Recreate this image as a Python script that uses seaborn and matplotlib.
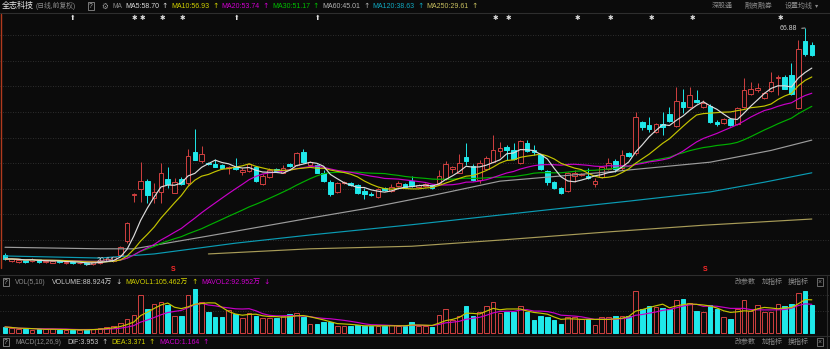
import numpy as np
import pandas as pd
import matplotlib
matplotlib.use("Agg")
import matplotlib.pyplot as plt
from matplotlib.lines import Line2D
import seaborn as sns

# ------------------------------------------------------------------ data
opens = [22.59, 21.42, 21.23, 21.60, 21.40, 21.80, 21.20, 21.10, 21.50, 21.00,
         21.20, 20.95, 21.05, 20.80, 20.95, 21.50, 21.40, 22.60, 25.30, 34.30,
         35.47, 37.03, 33.70, 34.90, 37.40, 34.70, 37.40, 36.60, 42.70, 40.90,
         40.60, 40.40, 40.20, 39.60, 39.80, 38.80, 39.00, 39.80, 36.40, 37.80,
         39.40, 38.60, 40.30, 40.15, 42.70, 40.15, 40.15, 38.60, 36.80, 34.90,
         36.60, 36.60, 36.20, 35.10, 34.40, 33.90, 35.70, 35.10, 36.10, 36.40,
         37.00, 35.90, 36.10, 36.20, 36.60, 37.40, 39.40, 38.60, 41.70, 40.00,
         37.20, 39.40, 40.70, 42.90, 43.70, 43.10, 40.50, 44.40, 43.10, 42.10,
         39.00, 36.80, 35.70, 35.10, 38.00, 38.20, 38.00, 36.40, 37.80, 39.40,
         40.90, 39.60, 42.50, 42.50, 48.50, 47.96, 46.60, 48.20, 50.10, 47.80,
         52.40, 51.50, 52.80, 51.50, 51.70, 48.50, 48.30, 49.10, 48.20, 51.50,
         54.00, 54.80, 53.20, 54.60, 57.10, 57.30, 57.70, 51.30, 64.40, 63.60]
highs = [22.98, 22.00, 21.80, 21.80, 22.00, 21.90, 21.70, 21.60, 21.70, 21.40,
         21.30, 21.30, 21.20, 21.30, 21.70, 22.00, 22.40, 24.40, 29.00, 34.70,
         40.74, 37.40, 36.60, 40.50, 39.80, 37.60, 37.80, 43.30, 47.20, 43.90,
         40.80, 41.30, 40.40, 40.00, 41.50, 39.60, 40.60, 40.00, 38.30, 39.50,
         39.60, 40.20, 40.50, 42.70, 43.30, 40.90, 40.30, 39.20, 37.20, 36.80,
         37.10, 36.90, 36.40, 35.70, 34.90, 35.70, 35.90, 36.40, 37.00, 36.60,
         38.00, 36.40, 36.60, 36.40, 39.20, 40.90, 40.00, 42.30, 44.40, 40.30,
         41.10, 41.90, 46.00, 44.60, 44.10, 44.40, 45.00, 45.00, 44.00, 42.30,
         39.20, 37.00, 35.90, 38.80, 39.20, 38.60, 39.60, 37.60, 40.00, 41.50,
         41.30, 43.10, 42.70, 50.50, 48.70, 49.50, 48.40, 50.50, 51.50, 55.40,
         55.00, 55.40, 54.80, 52.80, 52.00, 48.90, 49.30, 49.30, 51.50, 57.10,
         56.30, 56.20, 54.40, 58.30, 57.70, 57.70, 60.10, 64.50, 66.88, 64.20]
lows = [21.62, 21.20, 21.10, 21.10, 21.30, 21.10, 21.00, 20.95, 21.10, 20.90,
        20.85, 20.80, 20.64, 20.70, 20.80, 21.40, 21.30, 22.40, 25.00, 32.90,
        32.93, 32.74, 32.70, 32.70, 35.70, 34.60, 36.20, 36.20, 41.10, 40.50,
        40.20, 39.70, 39.30, 38.40, 39.20, 38.20, 38.80, 36.80, 36.20, 37.60,
        38.80, 38.60, 39.80, 40.00, 40.60, 40.00, 38.50, 36.80, 34.10, 34.70,
        36.40, 36.00, 34.50, 33.50, 34.10, 33.70, 35.10, 34.90, 35.90, 35.70,
        35.90, 35.70, 35.90, 35.50, 36.20, 37.20, 38.60, 38.60, 40.15, 37.00,
        36.60, 39.20, 40.70, 41.70, 41.10, 41.10, 40.30, 42.70, 42.10, 39.20,
        36.20, 35.50, 34.50, 34.90, 36.80, 38.00, 37.40, 35.90, 37.60, 39.20,
        38.80, 39.20, 41.70, 42.10, 47.00, 46.60, 46.40, 46.00, 48.50, 47.60,
        50.30, 51.30, 52.20, 51.30, 48.30, 47.80, 48.10, 47.80, 48.00, 51.30,
        53.80, 54.40, 53.00, 54.40, 53.80, 55.00, 53.80, 51.10, 61.40, 61.40]
closes = [21.81, 21.81, 21.62, 21.30, 21.80, 21.20, 21.50, 21.40, 21.30, 21.20,
          20.95, 21.10, 20.80, 21.20, 21.55, 21.80, 22.20, 24.15, 28.80, 34.50,
          37.03, 34.30, 34.90, 38.60, 36.40, 36.80, 36.40, 41.90, 41.10, 42.30,
          40.40, 39.80, 39.60, 39.80, 39.40, 39.20, 40.30, 37.00, 38.00, 39.20,
          39.00, 39.60, 39.90, 42.50, 40.70, 40.70, 38.60, 37.00, 34.50, 36.60,
          36.80, 36.20, 34.70, 34.50, 34.30, 35.50, 35.30, 35.90, 36.60, 35.90,
          36.00, 36.20, 36.40, 35.70, 38.00, 40.30, 39.80, 40.50, 40.90, 37.20,
          40.50, 41.50, 43.10, 43.50, 43.10, 41.30, 44.80, 42.90, 42.70, 39.40,
          36.80, 35.70, 34.70, 38.60, 38.60, 38.40, 37.60, 37.00, 39.80, 40.50,
          39.40, 42.10, 41.90, 49.50, 47.60, 47.20, 48.20, 47.60, 48.70, 52.60,
          51.50, 53.80, 52.40, 52.20, 48.50, 48.20, 49.10, 48.00, 51.30, 54.80,
          55.00, 55.20, 54.20, 56.30, 57.30, 55.00, 54.10, 62.80, 61.80, 61.60]
volumes = [19.5, 15.8, 11.3, 12.6, 11.0, 12.9, 11.4, 12.7, 9.8, 9.5,
           9.9, 9.4, 12.5, 12.9, 16.2, 19.0, 22.5, 32.4, 44.6, 57.3,
           121.8, 76.5, 92.6, 99.4, 89.1, 54.7, 54.2, 121.3, 140.9, 99.6,
           67.1, 51.4, 51.0, 73.8, 60.5, 47.9, 64.2, 54.6, 48.3, 47.7,
           48.1, 54.2, 60.9, 64.3, 51.5, 28.7, 29.0, 35.4, 35.1, 22.3,
           22.6, 22.2, 25.8, 22.5, 22.1, 22.7, 22.3, 25.4, 22.6, 22.4,
           35.3, 22.5, 22.2, 19.1, 57.8, 76.6, 41.8, 54.3, 86.7, 54.5,
           67.3, 86.2, 99.5, 64.1, 67.0, 67.4, 86.5, 67.1, 41.4, 54.6,
           51.3, 41.7, 28.9, 51.1, 51.4, 44.9, 44.6, 25.7, 51.0, 51.3,
           54.5, 54.2, 54.6, 134.6, 76.9, 86.3, 83.1, 80.2, 76.6, 105.8,
           108.6, 96.2, 70.5, 67.3, 89.8, 76.5, 51.2, 44.9, 76.7, 105.4,
           70.6, 89.5, 67.4, 67.0, 92.7, 86.3, 93.0, 128.4, 134.2, 88.924]

# long moving averages (they need history before the window)
ma60_idx = [0, 14, 19, 30, 45, 53, 63, 73, 89, 104, 113, 119]
ma60_val = [24.1, 23.8, 23.8, 26.3, 29.8, 31.6, 34.2, 37.0, 38.8, 40.7, 43.0, 45.01]
ma120_idx = [0, 14, 22, 34, 45, 60, 80, 92, 104, 112, 119]
ma120_val = [22.4, 22.0, 22.8, 24.9, 26.5, 28.5, 31.4, 33.1, 34.9, 36.8, 38.63]
ma250_idx = [30, 45, 60, 73, 89, 103, 119]
ma250_val = [22.8, 23.8, 24.3, 25.5, 27.1, 28.4, 29.61]

high_label = "66.88"
low_label = "20.64"

ma_header = [("MA5:58.70", "#dcdcdc"), ("MA10:56.93", "#d2d200"),
             ("MA20:53.74", "#d000d0"), ("MA30:51.17", "#00c000"),
             ("MA60:45.01", "#b4b4b4"), ("MA120:38.63", "#10a8c0"),
             ("MA250:29.61", "#c8c060")]
vol_header = [("VOLUME:88.924万", "#c8c8c8", "↓"), ("MAVOL1:105.462万", "#d2d200", "↑"),
              ("MAVOL2:92.952万", "#d000d0", "↓")]
macd_header = [("DIF:3.953", "#c8c8c8", "↑"), ("DEA:3.371", "#d2d200", "↑"),
               ("MACD:1.164", "#d000d0", "↑")]

# ------------------------------------------------------------------ style
BG = "#0b0b0b"
RED = "#d04040"
CYAN = "#1fe8ea"
GRAY = "#8c8c8c"
sns.set_style("dark", rc={"axes.facecolor": BG, "figure.facecolor": BG,
                          "savefig.facecolor": BG})
FONT = ["Liberation Sans", "Noto Sans CJK SC", "DejaVu Sans"]
plt.rcParams["font.family"] = FONT
SYM = ["DejaVu Sans"]

W, H = 830, 349
fig = plt.figure(figsize=(W / 100, H / 100), dpi=100, facecolor=BG)
renderer = fig.canvas.get_renderer()


def fx(x):
    return x / W


def fy(y):
    return 1 - y / H


def ftext(x, y, s, color, size=5.0, **kw):
    kw.setdefault("va", "center")
    kw.setdefault("ha", "left")
    return fig.text(fx(x), fy(y), s, color=color, fontsize=size, **kw)


def place(x, y, s, color, size=5.0, **kw):
    """draw text at x (px) and return its right edge in px"""
    t = ftext(x, y, s, color, size, **kw)
    return t.get_window_extent(renderer).x1


def hline(y, x0=0, x1=W, color="#2c2c2c", lw=0.8):
    fig.add_artist(Line2D([fx(x0), fx(x1)], [fy(y), fy(y)], transform=fig.transFigure,
                          color=color, lw=lw))


def vline(x, y0, y1, color="#2c2c2c", lw=0.8):
    fig.add_artist(Line2D([fx(x), fx(x)], [fy(y0), fy(y1)], transform=fig.transFigure,
                          color=color, lw=lw))


n = len(closes)
xi = np.arange(n)
o = np.array(opens)
c = np.array(closes)
h = np.array(highs)
lo = np.array(lows)
up = c >= o

XMIN, XMAX = -5 / 6.78, 825 / 6.78
PMIN, PMAX = 20.055, 69.81

# ------------------------------------------------------------------ main panel
ax = fig.add_axes([0, fy(268), 1, (268 - 13) / H])

for p in np.arange(25.5, 66, 5.0):
    ax.axhline(p, color="#3a3a3a", lw=0.6, ls=(0, (1, 2)), zorder=0)

ax.vlines(xi, lo, h, colors=np.where(up, RED, CYAN), lw=0.7, zorder=2)
body_h = np.maximum(np.abs(c - o), 0.08)
ax.bar(xi, body_h, bottom=np.minimum(o, c), width=0.68,
       facecolor=np.where(up, BG, CYAN), edgecolor=np.where(up, RED, CYAN),
       linewidth=0.7, zorder=3)

s = pd.Series(closes)
ma_lines = [
    (xi, s.rolling(5, min_periods=1).mean().values, "#dcdcdc"),
    (xi, s.rolling(10, min_periods=1).mean().values, "#c4c400"),
    (xi, s.rolling(20, min_periods=1).mean().values, "#c800c8"),
    (xi, s.rolling(30, min_periods=1).mean().values, "#00b000"),
    (np.array(ma60_idx), np.array(ma60_val), "#9c9c9c"),
    (np.array(ma120_idx), np.array(ma120_val), "#0a9cb4"),
    (np.array(ma250_idx), np.array(ma250_val), "#a89c58"),
]
for xs, ys, col in ma_lines[::-1]:
    sns.lineplot(x=xs, y=ys, ax=ax, color=col, lw=0.85, legend=False, zorder=4)
ax.set_xlim(XMIN, XMAX)
ax.set_ylim(PMIN, PMAX)
ax.set_axis_off()

ih = int(np.argmax(h))
il = int(np.argmin(lo))
ax.annotate(high_label, xy=(ih, h[ih]), xycoords="data",
            xytext=(797, H - 29), textcoords="figure pixels",
            ha="right", va="center", color="#d0d0d0", fontsize=5.0,
            arrowprops=dict(arrowstyle="-", color="#d0d0d0", lw=0.6,
                            shrinkA=1, shrinkB=0), zorder=6)
ax.annotate(low_label, xy=(il, lo[il]), xycoords="data",
            xytext=(97, H - 261), textcoords="figure pixels",
            ha="left", va="center", color="#d0d0d0", fontsize=5.0,
            arrowprops=dict(arrowstyle="-", color="#d0d0d0", lw=0.6,
                            shrinkA=1, shrinkB=0), zorder=6)

# ------------------------------------------------------------------ volume panel
axv = fig.add_axes([0, fy(335), 1, (335 - 286) / H])
for v in (70.4, 121.6):
    axv.axhline(v, color="#3a3a3a", lw=0.6, ls=(0, (1, 2)), zorder=0)
axv.bar(xi, volumes, width=0.68, facecolor=np.where(up, BG, CYAN),
        edgecolor=np.where(up, RED, CYAN), linewidth=0.7, zorder=2)
vs = pd.Series(volumes)
sns.lineplot(x=xi, y=vs.rolling(10, min_periods=1).mean().values, ax=axv,
             color="#c800c8", lw=0.85, legend=False, zorder=3)
sns.lineplot(x=xi, y=vs.rolling(5, min_periods=1).mean().values, ax=axv,
             color="#c4c400", lw=0.85, legend=False, zorder=4)
axv.set_xlim(XMIN, XMAX)
axv.set_ylim(-6.4, 150.4)
axv.set_axis_off()

# ------------------------------------------------------------------ frame lines
hline(12.5, color="#2e2e2e")
hline(275, color="#2e2e2e")
hline(336, color="#2e2e2e")
vline(0.8, 14, 268, color="#b03a1e", lw=1.0)
vline(826.5, 276, 349, color="#2e2e2e")

# ------------------------------------------------------------------ header row
box = dict(boxstyle="square,pad=0.12", fc="none", ec="#8a8a8a", lw=0.6)
end = place(2, 6, "全志科技", "#e8e8e8", size=5.8)
end = place(max(36, end + 2), 6, "(日线,前复权)", GRAY, size=4.9)
end = place(max(89, end + 3), 6, "?", "#b0b0b0", size=4.8, bbox=box)
end = place(max(101, end + 3), 6, "⚙", "#9a9a9a", size=5.5, family=SYM)
end = place(max(112, end + 3), 6, "MA", GRAY, size=4.8)
ma_x = [124, 168, 214, 261, 308, 355, 404]
for (txt, col), x0 in zip(ma_header, ma_x):
    end = place(max(x0, end + 3), 6, txt, col, size=5.0)
    end = place(end + 3, 6, "↑", col, size=5.4, family=SYM)
place(712, 6, "深股通", GRAY, size=5.0)
place(745, 6, "融资融券", GRAY, size=5.0)
end = place(785, 6, "设置均线", GRAY, size=5.0)
place(end + 2, 6, "▾", GRAY, size=4.6, family=SYM)

for x in (73, 237, 318):
    ftext(x, 17.5, "⬆", "#e0e0e0", size=4.8, ha="center", family=SYM)
for x in (134, 142, 162, 182, 495, 508, 577, 610, 651, 692, 780):
    ftext(x, 17.5, "✱", "#e0e0e0", size=4.8, ha="center", family=SYM)

for x in (173, 705):
    ftext(x, 269.5, "S", "#ff2a2a", size=5.0, ha="center", weight="bold")


# ------------------------------------------------------------------ indicator headers
def sub_header(y, name, items, xs):
    e = place(4, y, "?", "#b0b0b0", size=4.8, bbox=box)
    e = place(max(15, e + 4), y, name, GRAY, size=4.8)
    for (txt, col, ar), x0 in zip(items, xs):
        e = place(max(x0, e + 4), y, txt, col, size=5.0)
        e = place(e + 3, y, ar, col, size=5.4, family=SYM)
    place(735, y, "改参数", GRAY, size=5.0)
    place(762, y, "加指标", GRAY, size=5.0)
    place(788, y, "换指标", GRAY, size=5.0)
    ftext(820, y, "×", GRAY, size=5.0, ha="center",
          bbox=dict(boxstyle="square,pad=0.1", fc="none", ec="#7a7a7a", lw=0.6))


sub_header(282, "VOL(5,10)", vol_header, [52, 117, 186])
sub_header(342, "MACD(12,26,9)", macd_header, [67, 110, 153])

fig.savefig("out.png", dpi=100, facecolor=BG)
